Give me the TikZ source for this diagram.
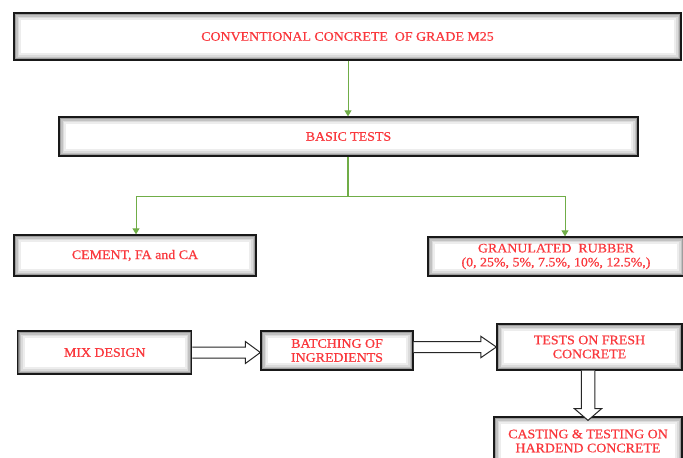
\documentclass[tikz,border=0pt]{standalone}
\usepackage{fontspec}
\setmainfont{Liberation Serif}
\newfontfamily\bxfam[FakeStretch=1.07,FakeBold=0.6]{Liberation Serif}
\usetikzlibrary{arrows.meta,calc}
\definecolor{txtred}{RGB}{250,55,60}
\definecolor{lgreen}{RGB}{112,173,71}
\newcommand\bxfont{\bxfam\fontsize{13}{14}\selectfont}
\tikzset{
  box/.style={draw=black!90, line width=1.3pt, fill=white, text=txtred, font=\bxfont,
    align=center, inner sep=0pt,
    path picture={
      \foreach \w/\c in {14/7,10/14,7/24,4.5/38,2.8/55,1.4/72}{
        \draw[line width=\w pt, black!\c] (path picture bounding box.south west) rectangle (path picture bounding box.north east);
      }
    }},
  gline/.style={draw=lgreen, line width=1pt},
  garrow/.style={gline, -{Triangle[width=7pt,length=6pt]}},
  blockarrow/.style={draw=black!85, line width=1pt, fill=white, line join=miter},
}
\begin{document}
\begin{tikzpicture}[x=1pt,y=-1pt]
\clip (0,0) rectangle (683,458);
\fill[white] (0,0) rectangle (683,458);

\node[box, minimum width=667pt, minimum height=47pt] (b1) at (347.5,36.5) {CONVENTIONAL CONCRETE\ \ OF GRADE M25};
\node[box, minimum width=579pt, minimum height=39pt] (b2) at (348.5,136.5) {BASIC TESTS};
\node[box, minimum width=242pt, minimum height=41pt] (b3) at (135,255.5) {CEMENT, FA and CA};
\node[box, minimum width=256pt, minimum height=39pt] (b4) at (556,256.5) {GRANULATED\ \ RUBBER\\(0, 25\%, 5\%, 7.5\%, 10\%, 12.5\%,)};

\node[box, minimum width=174pt, minimum height=43pt] (mix) at (104.75,352.5) {MIX DESIGN};
\node[box, minimum width=152pt, minimum height=39pt] (batch) at (337,350.5) {BATCHING OF\\INGREDIENTS};
\node[box, minimum width=185pt, minimum height=46pt] (fresh) at (589.5,347) {TESTS ON FRESH\\CONCRETE};
\node[box, minimum width=188pt, minimum height=48pt] (cast) at (588,441) {CASTING \& TESTING ON\\HARDEND CONCRETE};

% green connectors
\draw[garrow] (b1.south -| 348,0) -- (b2.north -| 348,0);
\coordinate (j) at (348,196);
\coordinate (jl) at (136,196);
\coordinate (jr) at (565,196);
\draw[gline, line width=1.8pt] (b2.south -| j) -- (j);
\draw[gline] (jl) -- (jr);
\draw[garrow] (jl) -- (b3.north -| jl);
\draw[garrow] (jr) -- (b4.north -| jr);

% block arrows
\coordinate (a1s) at (mix.east);
\coordinate (a1e) at (batch.west |- mix.east);
\draw[blockarrow] ($(a1s)+(0,-5.5)$) -- ($(a1e)+(-15,-5.5)$) -- ($(a1e)+(-15,-11)$) -- (a1e)
  -- ($(a1e)+(-15,11)$) -- ($(a1e)+(-15,5.5)$) -- ($(a1s)+(0,5.5)$);

\coordinate (a2s) at (batch.east |- fresh.west);
\coordinate (a2e) at (fresh.west);
\draw[blockarrow] ($(a2s)+(0,-5.5)$) -- ($(a2e)+(-15.5,-5.5)$) -- ($(a2e)+(-15.5,-10.7)$) -- (a2e)
  -- ($(a2e)+(-15.5,10.7)$) -- ($(a2e)+(-15.5,5.5)$) -- ($(a2s)+(0,5.5)$);

\coordinate (a3s) at (588,0 |- fresh.south);
\coordinate (a3e) at ($(588,0 |- cast.north)+(0,4)$);
\draw[blockarrow] ($(a3s)+(-6.75,0)$) -- ($(a3e)+(-6.75,-11.7)$) -- ($(a3e)+(-13.6,-11.7)$) -- (a3e)
  -- ($(a3e)+(13.6,-11.7)$) -- ($(a3e)+(6.75,-11.7)$) -- ($(a3s)+(6.75,0)$);
\end{tikzpicture}
\end{document}
